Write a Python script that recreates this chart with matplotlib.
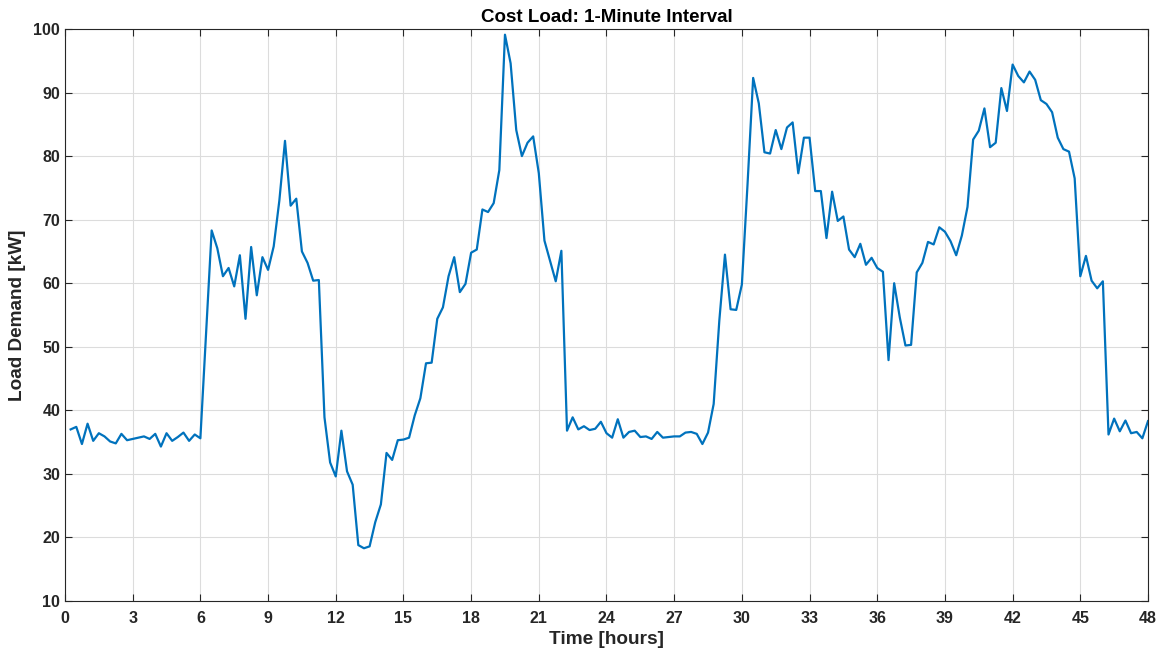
import matplotlib
matplotlib.use('Agg')
import matplotlib.pyplot as plt
import numpy as np

plt.rcParams['font.family'] = ['Liberation Sans', 'DejaVu Sans']
plt.rcParams['font.weight'] = 'bold'

# 15-minute samples, t = 0.25 ... 48 h
hours = np.arange(1, 193) * 0.25
load_kw = [
    37.0, 37.4, 34.7, 37.9, 35.2, 36.4, 35.9, 35.1, 34.8, 36.3, 35.3, 35.5,
    35.7, 35.9, 35.5, 36.3, 34.3, 36.4, 35.2, 35.8, 36.5, 35.2, 36.2, 35.6,
    52.0, 68.3, 65.5, 61.1, 62.4, 59.5, 64.4, 54.4, 65.7, 58.1, 64.1, 62.1,
    65.8, 73.0, 82.4, 72.2, 73.3, 65.0, 63.2, 60.4, 60.5, 38.9, 31.8, 29.6,
    36.8, 30.4, 28.3, 18.8, 18.3, 18.6, 22.4, 25.2, 33.3, 32.2, 35.3, 35.4,
    35.7, 39.2, 41.9, 47.4, 47.5, 54.4, 56.2, 61.1, 64.1, 58.6, 59.9, 64.8,
    65.3, 71.6, 71.2, 72.6, 77.8, 99.1, 94.6, 84.1, 80.0, 82.1, 83.1, 77.3,
    66.7, 63.5, 60.3, 65.1, 36.8, 38.9, 37.0, 37.5, 36.9, 37.1, 38.2, 36.4,
    35.7, 38.6, 35.7, 36.6, 36.8, 35.8, 35.9, 35.5, 36.6, 35.7, 35.8, 35.9,
    35.9, 36.5, 36.6, 36.3, 34.7, 36.5, 41.0, 54.1, 64.5, 55.9, 55.8, 59.8,
    75.5, 92.3, 88.3, 80.6, 80.4, 84.1, 81.1, 84.5, 85.3, 77.3, 82.9, 82.9,
    74.5, 74.5, 67.1, 74.4, 69.8, 70.5, 65.3, 64.1, 66.2, 62.9, 64.0, 62.4,
    61.8, 47.9, 60.0, 54.6, 50.2, 50.3, 61.7, 63.2, 66.5, 66.1, 68.8, 68.1,
    66.6, 64.4, 67.5, 72.0, 82.6, 84.0, 87.5, 81.4, 82.1, 90.7, 87.1, 94.4,
    92.6, 91.6, 93.3, 92.0, 88.8, 88.2, 86.9, 82.9, 81.1, 80.7, 76.5, 61.1,
    64.3, 60.4, 59.2, 60.3, 36.2, 38.7, 36.7, 38.4, 36.4, 36.6, 35.6, 38.3,
]

fig = plt.figure(figsize=(11.65, 6.57), dpi=100)
ax = fig.add_axes([0.0558, 0.0852, 0.9296, 0.8707])
ax.plot(hours, load_kw, color='#0072BD', linewidth=1.6)

ax.set_xlim(0, 48)
ax.set_ylim(10, 100)
ax.set_xticks(np.arange(0, 49, 3))
ax.set_yticks(np.arange(10, 101, 10))
ax.grid(True, color='#dcdcdc', linewidth=0.8)
ax.set_axisbelow(True)
ax.tick_params(direction='in', length=5, width=0.8, labelsize=11.5,
               top=True, right=True, colors='#262626')
ax.tick_params(axis='x', pad=7)
for s in ax.spines.values():
    s.set_color('#262626')
    s.set_linewidth(0.8)

ax.set_xlabel('Time [hours]', fontsize=13.7, fontweight='bold', color='#262626', labelpad=4)
ax.set_ylabel('Load Demand [kW]', fontsize=13.7, fontweight='bold', color='#262626', labelpad=5)
ax.set_title('Cost Load: 1-Minute Interval', fontsize=13.5, fontweight='bold', pad=5)

fig.savefig('out.png', dpi=100)
